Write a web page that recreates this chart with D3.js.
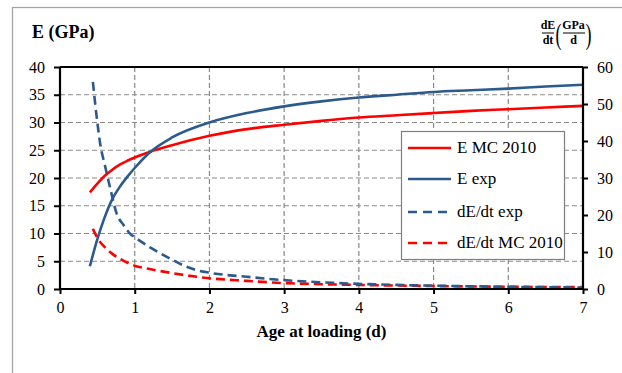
<!DOCTYPE html>
<html><head><meta charset="utf-8">
<script src="https://cdn.jsdelivr.net/npm/d3@7"></script>
<style>body{margin:0;background:#fff}svg{display:block}</style>
</head><body>
<script>
// ---- data ----
const ageE   = [0.4,0.5,0.6,0.7,0.8,0.9,1.0,1.2,1.5,2.0,2.5,3.0,3.5,4.0,4.5,5.0,5.5,6.0,6.5,7.0];
const eMC    = [17.4,19.0,20.4,21.5,22.4,23.1,23.7,24.7,25.9,27.6,28.8,29.6,30.3,30.9,31.3,31.7,32.1,32.4,32.7,33.0];
const eExp   = [4.1,9.0,13.0,16.2,18.4,20.2,21.8,24.6,27.3,30.0,31.7,32.9,33.8,34.5,35.0,35.5,35.8,36.1,36.5,36.8];
const ageDExp = [0.44,0.5,0.54,0.6,0.67,0.76,0.85,0.94,1.0,1.2,1.43,1.65,1.83,2.0,2.5,3.0,3.5,4.0,5.0,6.0,7.0];
const dExp    = [56,45,39,33.5,27.4,20.3,17.3,14.9,14.0,11.3,8.7,6.4,5.1,4.4,3.3,2.4,1.8,1.4,0.9,0.6,0.4];
const ageDMC  = [0.44,0.5,0.6,0.7,0.8,1.0,1.2,1.5,2.0,2.5,3.0,3.5,4.0,5.0,6.0,7.0];
const dMC     = [16.3,13.8,11.3,9.5,8.2,6.3,5.4,4.3,2.9,2.2,1.6,1.3,1.1,0.8,0.6,0.5];
const xTicks  = [0,1,2,3,4,5,6,7];
const yLeftTicks  = [0,5,10,15,20,25,30,35,40];
const yRightTicks = [0,10,20,30,40,50,60];
const legendLabels = ["E MC 2010","E exp","dE/dt exp","dE/dt MC 2010"];

const FONT='"Liberation Serif","Times New Roman","DejaVu Serif",serif';
const W=622,H=373;
const svg=d3.select("body").append("svg").attr("width",W).attr("height",H)
  .attr("font-family",FONT).style("font-family",FONT);
svg.append("rect").attr("width",W).attr("height",H).attr("fill","#fff");
svg.append("rect").attr("x",12.5).attr("y",7.5).attr("width",800).attr("height",600)
  .attr("fill","none").attr("stroke","#a6a6a6").attr("stroke-width",1.3);

const L=60,R=583,T=67,B=289;
const x=d3.scaleLinear().domain([0,7]).range([L,R]);
const yL=d3.scaleLinear().domain([0,40]).range([B,T]);
const yR=d3.scaleLinear().domain([0,60]).range([B,T]);

const grid=svg.append("g").attr("stroke","#8a8a8a").attr("stroke-width",1.2).attr("stroke-dasharray","5,3");
yLeftTicks.filter(d=>d>0&&d<40).forEach(d=>grid.append("line").attr("x1",L).attr("x2",R).attr("y1",yL(d)).attr("y2",yL(d)));
xTicks.filter(d=>d>0&&d<7).forEach(d=>grid.append("line").attr("y1",T).attr("y2",B).attr("x1",x(d)).attr("x2",x(d)));

const BLUE="#2c5a8e", RED="#ff0000";
const lineL=d3.line().curve(d3.curveMonotoneX);
function draw(xs,ys,scale,color,dash){
  svg.append("path").attr("d",lineL(xs.map((a,i)=>[x(a),scale(ys[i])])))
    .attr("fill","none").attr("stroke",color).attr("stroke-width",2.6)
    .attr("stroke-dasharray",dash||null);
}
draw(ageDMC,dMC,yR,RED,"9,5");
draw(ageDExp,dExp,yR,BLUE,"9,5");
draw(ageE,eMC,yL,RED);
draw(ageE,eExp,yL,BLUE);

svg.append("line").attr("x1",L).attr("x2",R).attr("y1",T).attr("y2",T).attr("stroke","#000").attr("stroke-width",2);

const ax=svg.append("g").attr("transform",`translate(0,${B})`)
  .call(d3.axisBottom(x).tickValues(xTicks).tickSize(5).tickPadding(8).tickFormat(d3.format("d")));
const ayl=svg.append("g").attr("transform",`translate(${L},0)`)
  .call(d3.axisLeft(yL).tickValues(yLeftTicks).tickSize(6).tickPadding(9));
const ayr=svg.append("g").attr("transform",`translate(${R},0)`)
  .call(d3.axisRight(yR).tickValues(yRightTicks).tickSize(5).tickPadding(9));
[ax,ayl,ayr].forEach(g=>{
  g.attr("font-family",FONT).attr("font-size",16);
  g.select(".domain").attr("stroke","#000").attr("stroke-width",2.2);
  g.selectAll(".tick line").attr("stroke","#000").attr("stroke-width",2);
  g.selectAll(".tick text").attr("fill","#000").attr("font-family",FONT).style("font-family",FONT).style("font-size","16px");
});
ax.select(".domain").attr("d",`M${L},0H${R}`);
ayl.select(".domain").attr("d",`M0,${T}V${B}`);
ayr.select(".domain").attr("d",`M0,${T}V${B}`);

function txt(g,xx,yy,size,weight,s,anchor){
  return g.append("text").attr("x",xx).attr("y",yy).attr("font-size",size+"px")
    .attr("font-weight",weight).attr("font-family",FONT).style("font-family",FONT)
    .attr("text-anchor",anchor||"start").text(s);
}
txt(svg,32,38,18,"bold","E (GPa)");
txt(svg,(L+R)/2,337,17,"bold","Age at loading (d)","middle");

// right axis title: dE/dt (GPa/d)
txt(svg,548,29,12,"bold","dE","middle");
svg.append("line").attr("x1",542).attr("x2",554).attr("y1",33).attr("y2",33).attr("stroke","#000").attr("stroke-width",1);
txt(svg,548,44,12,"bold","dt","middle");
txt(svg,558.5,44,30,"normal","(","middle").attr("transform","translate(558.5,0) scale(0.6,1) translate(-558.5,0)");
txt(svg,573.5,29,12,"bold","GPa","middle");
svg.append("line").attr("x1",563).attr("x2",585).attr("y1",33).attr("y2",33).attr("stroke","#000").attr("stroke-width",1);
txt(svg,573.5,44,12,"bold","d","middle");
txt(svg,588.5,44,30,"normal",")","middle").attr("transform","translate(588.5,0) scale(0.6,1) translate(-588.5,0)");

// legend
const lg=svg.append("g");
lg.append("rect").attr("x",401.5).attr("y",131.5).attr("width",163).attr("height",128)
  .attr("fill","#fff").attr("stroke","#7f7f7f").attr("stroke-width",1.2);
const lcol=[RED,BLUE,BLUE,RED], ldash=[null,null,"9,6","9,6"], ly=[148,179,212,243];
legendLabels.forEach((t,i)=>{
  lg.append("line").attr("x1",408).attr("x2",451).attr("y1",ly[i]).attr("y2",ly[i])
    .attr("stroke",lcol[i]).attr("stroke-width",2.6).attr("stroke-dasharray",ldash[i]);
  txt(lg,457,ly[i]+5,17,"normal",t);
});
</script>
</body></html>
